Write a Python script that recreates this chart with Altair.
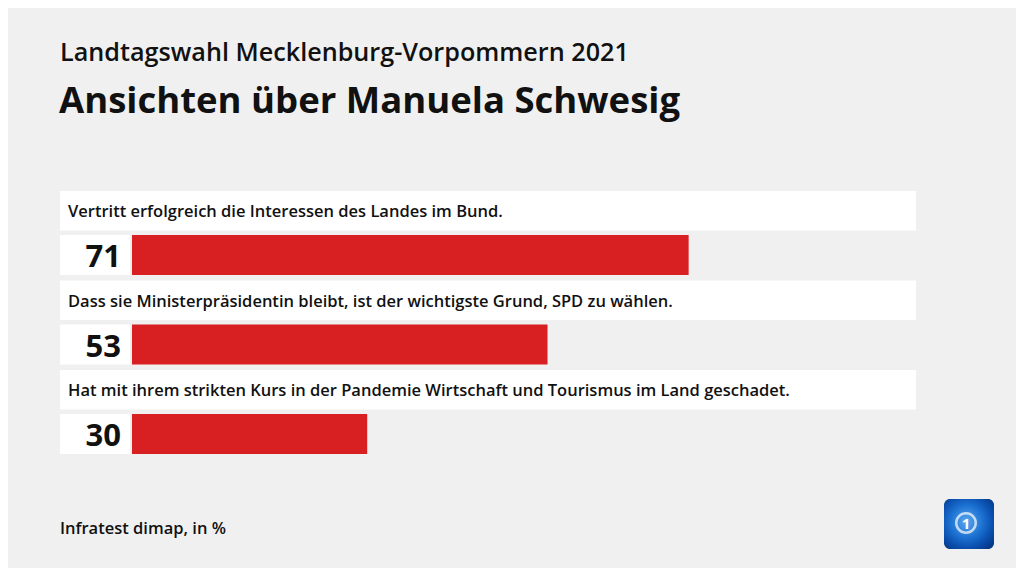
import altair as alt
import pandas as pd

# ---- data ----
questions = [
    "Vertritt erfolgreich die Interessen des Landes im Bund.",
    "Dass sie Ministerpräsidentin bleibt, ist der wichtigste Grund, SPD zu wählen.",
    "Hat mit ihrem strikten Kurs in der Pandemie Wirtschaft und Tourismus im Land geschadet.",
]
values = [71, 53, 30]
title_line1 = "Landtagswahl Mecklenburg-Vorpommern 2021"
title_line2 = "Ansichten über Manuela Schwesig"
source_note = "Infratest dimap, in %"

df = pd.DataFrame({"q": questions, "v": values, "label": [str(v) for v in values]})

FONT = "Open Sans"
BG = "#f0f0f0"
RED = "#d81f22"

yband = alt.Y("q:N", sort=questions, axis=None,
              scale=alt.Scale(type="band", range=[183, 446], paddingInner=0.0615, paddingOuter=0))
xscale = alt.Scale(domain=[0, 100], range=[124, 908])

base = alt.Chart(df)

label_box = base.mark_bar(color="white", height=39.5, yOffset=-22.25).encode(
    y=yband, x=alt.value(52), x2=alt.value(908))
num_box = base.mark_bar(color="white", height=40, yOffset=22).encode(
    y=yband, x=alt.value(52), x2=alt.value(122))
bars = base.mark_bar(color=RED, height=40, yOffset=22).encode(
    y=yband, x=alt.X("v:Q", scale=xscale, axis=None))
label_text = base.mark_text(align="left", baseline="alphabetic", font=FONT, fontSize=16.5,
                            fontWeight=600, color="#111", yOffset=-16).encode(
    y=yband, x=alt.value(60), text="q:N")
num_text = base.mark_text(align="right", baseline="alphabetic", font=FONT, fontSize=31,
                          fontWeight="bold", color="#111", yOffset=34).encode(
    y=yband, x=alt.value(113), text="label:N")

tdf = pd.DataFrame({"t": [title_line1, title_line2, source_note]})
t1 = alt.Chart(tdf.iloc[[0]]).mark_text(align="left", baseline="alphabetic", font=FONT,
                                         fontSize=25.2, fontWeight=600, color="#111").encode(
    x=alt.value(52), y=alt.value(53), text="t:N")
t2 = alt.Chart(tdf.iloc[[1]]).mark_text(align="left", baseline="alphabetic", font=FONT,
                                         fontSize=36.5, fontWeight="bold", color="#111").encode(
    x=alt.value(51), y=alt.value(105), text="t:N")
t3 = alt.Chart(tdf.iloc[[2]]).mark_text(align="left", baseline="alphabetic", font=FONT,
                                         fontSize=16.5, fontWeight=600, color="#111").encode(
    x=alt.value(52), y=alt.value(526), text="t:N")

# logo (ARD tagesschau style)
logo_df = pd.DataFrame({"k": ["1"]})
logo_bg = alt.Chart(logo_df).mark_rect(
    cornerRadius=6,
    color=alt.Gradient(gradient="radial", x1=0.45, y1=0.45, x2=0.45, y2=0.45, r1=0, r2=0.75,
                       stops=[alt.GradientStop(color="#5aa8f0", offset=0),
                              alt.GradientStop(color="#1a6fd0", offset=0.45),
                              alt.GradientStop(color="#0a4fae", offset=0.7),
                              alt.GradientStop(color="#04307a", offset=1)])
).encode(x=alt.value(936), x2=alt.value(986), y=alt.value(491), y2=alt.value(541))
logo_ring = alt.Chart(logo_df).mark_point(shape="circle", filled=False, stroke="white",
                                          strokeWidth=2.5, size=380).encode(
    x=alt.value(958), y=alt.value(515))
logo_one = alt.Chart(logo_df).mark_text(font=FONT, fontWeight="bold", fontSize=15, color="white",
                                        baseline="middle", align="center").encode(
    x=alt.value(958), y=alt.value(516), text="k:N")

chart = alt.layer(label_box, num_box, bars, label_text, num_text, t1, t2, t3,
                  logo_bg, logo_ring, logo_one).properties(
    width=1008, height=560, padding=0, autosize=alt.AutoSizeParams(type="none"),
    background=BG
).configure_view(stroke=None)

chart.save("out.html", embed_options={"renderer": "svg", "actions": False})
